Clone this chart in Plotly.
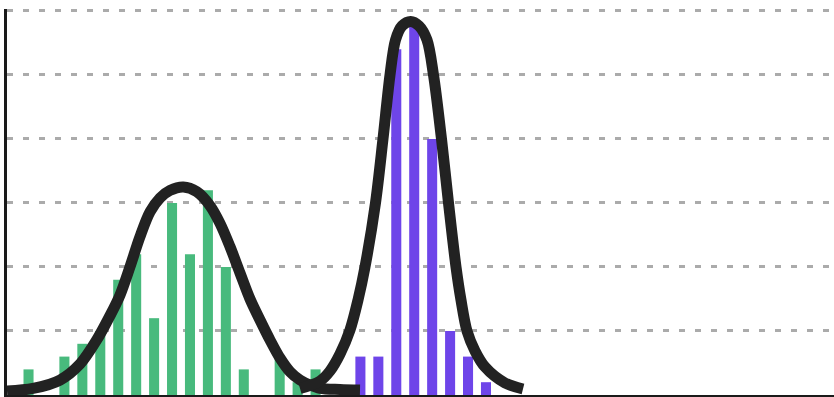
import plotly.graph_objects as go

# histogram bins (index), counts per series
bins = list(range(26))
green_counts = [2, 0, 3, 4, 5, 9, 11, 6, 15, 11, 16, 10, 2, 0, 3, 1, 2, 0,
                0, 0, 0, 0, 0, 0, 0, 0]
purple_counts = [0, 0, 0, 0, 0, 0, 0, 0, 0, 0, 0, 0, 0, 0, 0, 0, 0, 0,
                 3, 3, 27, 29, 20, 5, 3, 1]

# density curves (in bin / count units)
green_curve_x = [-1.449, 0.0, 1.505, 2.62, 3.551, 4.292, 4.849, 5.407, 5.964, 6.522,
                 7.079, 7.637, 8.378, 9.125, 9.866, 10.424, 10.981, 11.538, 12.096,
                 12.653, 13.211, 13.768, 14.326, 14.883, 15.44, 15.998, 17.113, 18.227]
green_curve_y = [0.31, 0.51, 1.17, 2.42, 4.30, 6.20, 7.81, 10.02, 12.37, 14.30,
                 15.39, 15.98, 16.25, 15.88, 14.79, 13.41, 11.59, 9.53, 7.50,
                 5.86, 4.30, 2.89, 1.82, 1.17, 0.78, 0.52, 0.43, 0.39]
purple_curve_x = [14.883, 15.998, 16.555, 17.113, 17.67, 18.116, 18.506, 19.091, 19.509,
                  19.9, 20.206, 20.569, 21.054, 21.516, 21.962, 22.324, 22.77, 23.161,
                  23.579, 23.857, 24.192, 24.638, 25.195, 26.31, 27.313]
purple_curve_y = [0.51, 1.09, 1.875, 3.20, 5.08, 7.42, 10.0, 15.0, 20.0,
                  25.0, 27.73, 28.83, 29.18, 28.83, 27.73, 25.0, 20.0, 15.0,
                  10.0, 7.42, 5.0, 3.44, 2.19, 0.94, 0.47]

GREEN = "#48BA7D"
PURPLE = "#6E45E9"
CURVE = "#222222"

fig = go.Figure()
fig.add_trace(go.Bar(x=bins, y=green_counts, marker_color=GREEN, marker_line_width=0,
                     width=0.56, offset=-0.53))
fig.add_trace(go.Bar(x=bins, y=purple_counts, marker_color=PURPLE, marker_line_width=0,
                     width=0.56, offset=-0.03))
fig.add_trace(go.Scatter(x=green_curve_x, y=green_curve_y, mode="lines",
                         line=dict(color=CURVE, width=11, shape="spline", smoothing=0.9)))
fig.add_trace(go.Scatter(x=purple_curve_x, y=purple_curve_y, mode="lines",
                         line=dict(color=CURVE, width=11, shape="spline", smoothing=0.9)))

fig.update_layout(
    width=834, height=397,
    margin=dict(l=7, r=0, t=9, b=2),
    paper_bgcolor="white", plot_bgcolor="white",
    showlegend=False, barmode="overlay",
    xaxis=dict(range=[-1.45, 44.65], showgrid=False, zeroline=False, showticklabels=False,
               ticks="", showline=True, linecolor="#1a1a1a", linewidth=3),
    yaxis=dict(range=[0, 30.15], tickvals=[5, 10, 15, 20, 25, 30], showgrid=True,
               gridcolor="#ababab", gridwidth=2.5, griddash="6px,10px",
               zeroline=False, showticklabels=False, ticks="",
               showline=True, linecolor="#1a1a1a", linewidth=3),
)

fig.write_html("out.html")
